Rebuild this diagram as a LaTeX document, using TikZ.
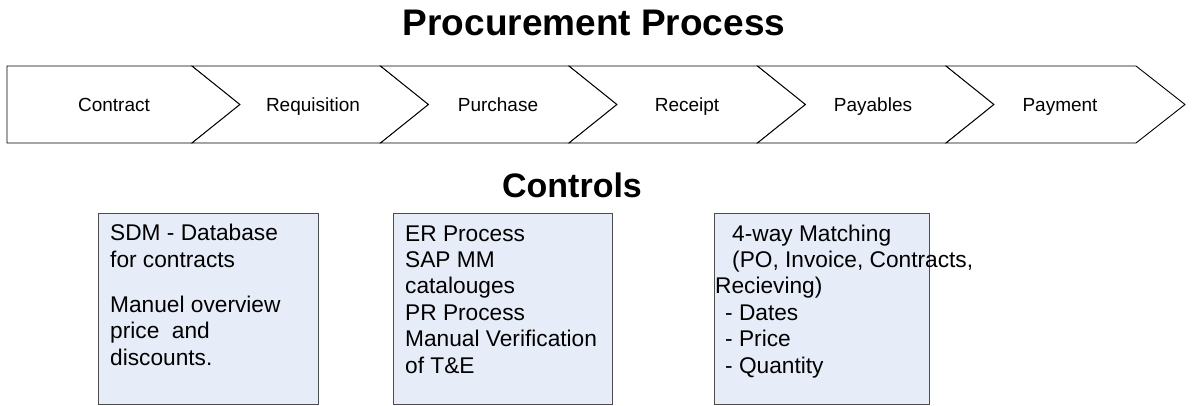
\documentclass[tikz,border=0pt]{standalone}
\usepackage{fontspec}
\setmainfont{Liberation Sans}
\begin{document}
\begin{tikzpicture}[x=1pt,y=-1pt,
  chev/.style={draw=black, fill=white, line width=0.9pt, line join=miter},
  steplabel/.style={font=\fontsize{19}{22}\selectfont, anchor=base, inner sep=0},
  ctrlbox/.style={draw=black!70, fill=boxfill, line width=0.9pt},
  ctrltext/.style={font=\fontsize{22.7}{26.4}\selectfont, anchor=base west, align=left, inner sep=0},
  heading/.style={font=\bfseries, anchor=base, inner sep=0}]
\definecolor{boxfill}{HTML}{E7EDF8}
\useasboundingbox (0,0) rectangle (1192,406);
% title
\node[heading, font=\bfseries\fontsize{37}{40}\selectfont] (title) at (594,36) {Procurement Process};
% chevrons
\def\ytop{66}\def\ybot{143}\def\ymid{104.5}
\path[chev] (7,\ytop) -- (192,\ytop) -- (240,\ymid) -- (192,\ybot) -- (7,\ybot) -- cycle;
\path[chev] (192,\ytop) -- (380.5,\ytop) -- (428.5,\ymid) -- (380.5,\ybot) -- (192,\ybot) -- (240,\ymid) -- cycle;
\path[chev] (380.5,\ytop) -- (569,\ytop) -- (617,\ymid) -- (569,\ybot) -- (380.5,\ybot) -- (428.5,\ymid) -- cycle;
\path[chev] (569,\ytop) -- (757.5,\ytop) -- (805.5,\ymid) -- (757.5,\ybot) -- (569,\ybot) -- (617,\ymid) -- cycle;
\path[chev] (757.5,\ytop) -- (946,\ytop) -- (994,\ymid) -- (946,\ybot) -- (757.5,\ybot) -- (805.5,\ymid) -- cycle;
\path[chev] (946,\ytop) -- (1136,\ytop) -- (1185,\ymid) -- (1136,\ybot) -- (946,\ybot) -- (994,\ymid) -- cycle;
\node[steplabel] (s1) at (114,112) {Contract};
\node[steplabel] (s2) at (313,112) {Requisition};
\node[steplabel] (s3) at (498,112) {Purchase};
\node[steplabel] (s4) at (687,112) {Receipt};
\node[steplabel] (s5) at (873,112) {Payables};
\node[steplabel] (s6) at (1060,112) {Payment};
% controls heading
\node[heading, font=\bfseries\fontsize{34}{38}\selectfont] (controls) at (572,198) {Controls};
% boxes
\path[ctrlbox] (98,213) rectangle (318,404);
\path[ctrlbox] (393,213) rectangle (612,404);
\path[ctrlbox] (714,213) rectangle (929,404);
\node[ctrltext] (c1) at (110,365) {SDM - Database\\for contracts\\[18.5pt]Manuel overview\\price\ \ and\\discounts.};
\node[ctrltext] (c2) at (405,373) {ER Process\\SAP MM\\catalouges\\PR Process\\Manual Verification\\of T\&E};
\node[ctrltext] (c3) at (715,373) {\hspace*{17pt}4-way Matching\\\hspace*{17pt}(PO, Invoice, Contracts,\\Recieving)\\\hspace*{10pt}- Dates\\\hspace*{10pt}- Price\\\hspace*{10pt}- Quantity};
\end{tikzpicture}
\end{document}
